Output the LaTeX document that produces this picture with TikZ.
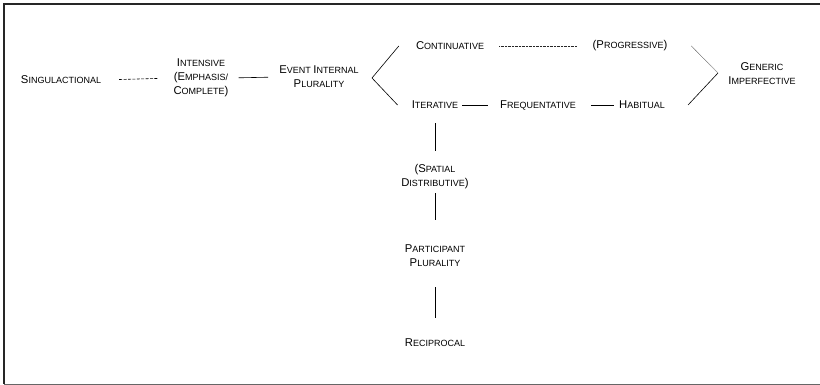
\documentclass[tikz,border=0pt]{standalone}
\usepackage{fontspec}
\setmainfont{Liberation Sans}
\usepackage{tikz}
\newcommand{\smallcap}[2]{{\fontsize{11.3}{14}\selectfont #1}{\fontsize{9}{14}\selectfont #2}}
\tikzset{
    term/.style={inner sep=0pt, align=center, font=\fontsize{9}{14}\selectfont},
    solidlink/.style={draw=black, line width=0.6pt},
    dashlink/.style={draw=black, line width=0.6pt, dash pattern=on 3pt off 1.4pt},
    dotlink/.style={draw=black!85, line width=0.6pt, dash pattern=on 0.6pt off 0.8pt}
}

\begin{document}
\begin{tikzpicture}[x=1pt,y=-1pt]
\useasboundingbox (0,0) rectangle (820,385);
\draw[line width=1.4pt, black!85] (820,4) -- (4,4) -- (4,384);
\draw[line width=1pt, black!60] (4,384) -- (820,384);

\node[term] (sing) at (61,80) {\smallcap{S}{INGULACTIONAL}};
\node[term] (inten) at (201,78) {\smallcap{I}{NTENSIVE}\\\smallcap{(E}{MPHASIS/}\\\smallcap{C}{OMPLETE}\smallcap{)}{}};
\node[term] (event) at (319,77) {\smallcap{E}{VENT} \smallcap{I}{NTERNAL}\\\smallcap{P}{LURALITY}};
\node[term] (cont) at (450,46) {\smallcap{C}{ONTINUATIVE}};
\node[term] (prog) at (630,46) {\smallcap{(P}{ROGRESSIVE}\smallcap{)}{}};
\node[term] (gen) at (762,74) {\smallcap{G}{ENERIC}\\\smallcap{I}{MPERFECTIVE}};
\node[term] (iter) at (435,105) {\smallcap{I}{TERATIVE}};
\node[term] (freq) at (538,105) {\smallcap{F}{REQUENTATIVE}};
\node[term] (hab) at (642,105) {\smallcap{H}{ABITUAL}};
\node[term] (spat) at (435,177) {\smallcap{(S}{PATIAL}\\\smallcap{D}{ISTRIBUTIVE}\smallcap{)}{}};
\node[term] (part) at (435,256) {\smallcap{P}{ARTICIPANT}\\\smallcap{P}{LURALITY}};
\node[term] (recip) at (435,343) {\smallcap{R}{ECIPROCAL}};

\coordinate (evfork) at (372,78);
\coordinate (genfork) at (718,73);

\draw[style={dashlink}, shorten <=18pt, shorten >=16pt]
  (sing.east) -- (inten.west);
\draw[style={solidlink}, shorten <=10pt, shorten >=11pt]
  (inten.east) -- (event.west);
\draw[style={solidlink}]
  ([xshift=-17pt]cont.west) -- (evfork) -- ([xshift=-14pt]iter.west);
\draw[style={dotlink}, shorten <=15pt, shorten >=15pt]
  (cont.east) -- (prog.west);
\draw[style={dotlink}]
  ([xshift=24pt]prog.east) -- (genfork);
\draw[style={solidlink}]
  (genfork) -- ([xshift=23pt]hab.east);
\draw[style={solidlink}, shorten <=4pt, shorten >=12pt]
  (iter.east) -- (freq.west);
\draw[style={solidlink}, shorten <=15pt, shorten >=5pt]
  (freq.east) -- (hab.west);
\draw[style={solidlink}, shorten <=14pt, shorten >=14pt]
  (iter) -- (spat);
\draw[style={solidlink}, shorten <=4pt, shorten >=25pt]
  (spat) -- (part);
\draw[style={solidlink}, shorten <=20pt, shorten >=21pt]
  (part) -- (recip);
\end{tikzpicture}
\end{document}
